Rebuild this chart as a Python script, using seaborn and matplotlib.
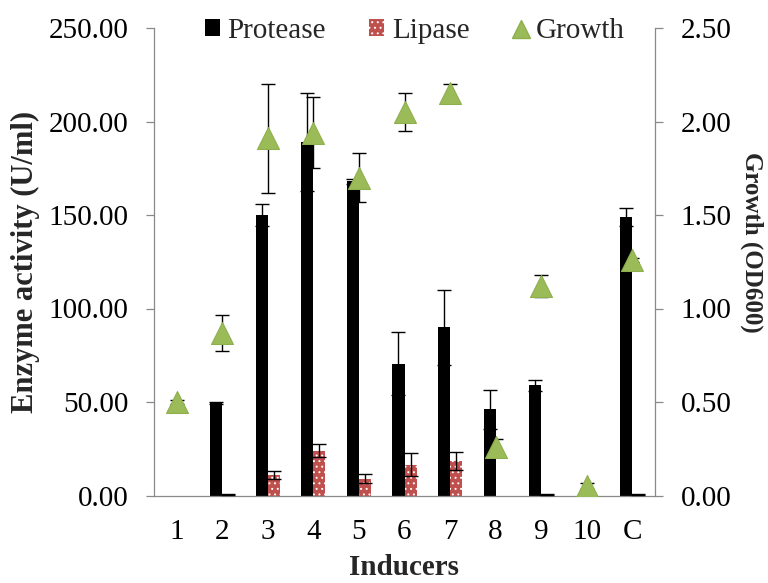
import numpy as np
import pandas as pd
import matplotlib
matplotlib.use("Agg")
import matplotlib.pyplot as plt
import seaborn as sns
from matplotlib.lines import Line2D
from matplotlib.patches import Patch
from matplotlib.ticker import FixedLocator, FormatStrFormatter

# Enzyme activity (U/ml) and growth (OD600) for each inducer
inducers = ["1", "2", "3", "4", "5", "6", "7", "8", "9", "10", "C"]
protease = [0, 49.5, 150, 189, 168, 70.5, 90, 46, 59, 0, 149]
protease_err = [0, 0.5, 6, 26, 1.5, 17, 20, 10.5, 3, 0, 5]
lipase = [0, 0.5, 11, 24, 9, 16.5, 18.5, 0, 0.5, 0, 0.5]
lipase_err = [0, 0.2, 2, 3.6, 2.3, 6, 5, 0, 0.2, 0, 0.2]
growth = [0.50, 0.87, 1.91, 1.94, 1.70, 2.05, 2.15, 0.26, 1.12, 0.05, 1.26]
growth_err = [0.01, 0.095, 0.29, 0.19, 0.13, 0.10, 0.05, 0.04, 0.06, 0.015, 0.01]

PROTEASE_COLOR = "black"
LIPASE_COLOR = "#C0504D"
GROWTH_COLOR = "#9BBB59"
GROWTH_EDGE = "#8DB04C"
AXIS_GRAY = "#898989"

sns.set_style("white")
plt.rcParams["font.family"] = ["Liberation Serif", "DejaVu Serif"]
plt.rcParams["hatch.linewidth"] = 0.7

fig = plt.figure(figsize=(7.68, 5.83), dpi=100)
ax = fig.add_axes([154 / 768, 1 - 495.5 / 583, 501 / 768, 467.5 / 583])

df = pd.DataFrame({
    "Inducer": inducers * 2,
    "Enzyme": ["Protease"] * len(inducers) + ["Lipase"] * len(inducers),
    "Activity": protease + lipase,
})
sns.barplot(data=df, x="Inducer", y="Activity", hue="Enzyme", order=inducers,
            hue_order=["Protease", "Lipase"],
            palette={"Protease": PROTEASE_COLOR, "Lipase": LIPASE_COLOR},
            width=0.53, gap=0, errorbar=None, saturation=1, legend=False, ax=ax)

for bar in ax.containers[0]:
    bar.set_linewidth(0)
for bar in ax.containers[1]:
    bar.set_hatch("...")
    bar.set_edgecolor("white")
    bar.set_linewidth(0)

# error bars on the enzyme bars
for cont, vals, errs in zip(ax.containers, [protease, lipase], [protease_err, lipase_err]):
    xs = [b.get_x() + b.get_width() / 2 for b in cont]
    idx = [i for i, e in enumerate(errs) if e > 0]
    ax.errorbar([xs[i] for i in idx], [vals[i] for i in idx],
                yerr=[errs[i] for i in idx], fmt="none", ecolor="black",
                elinewidth=1.0, capsize=4.7, capthick=1.0, zorder=3)

# growth on the secondary axis
ax2 = ax.twinx()
pos = np.arange(len(inducers))
ax2.errorbar(pos, growth, yerr=growth_err, fmt="none", ecolor="black",
             elinewidth=1.0, capsize=4.7, capthick=1.0, zorder=3)
sns.scatterplot(x=pos, y=growth, marker="^", s=15.8 ** 2, color=GROWTH_COLOR,
                edgecolor=GROWTH_EDGE, linewidth=0.8, legend=False, ax=ax2, zorder=4)

# axes styling
ax.set_xlim(-0.5, len(inducers) - 0.5)
ax.set_ylim(0, 250)
ax.set_yticks(np.arange(0, 251, 50))
ax.yaxis.set_major_formatter(FormatStrFormatter("%.2f"))
ax2.set_ylim(0, 2.5)
ax2.set_yticks(np.arange(0, 2.51, 0.5))
ax2.yaxis.set_major_formatter(FormatStrFormatter("%.2f"))

ax.set_xticks(pos)
ax.set_xticklabels(inducers)
ax.xaxis.set_minor_locator(FixedLocator(np.arange(-0.5, len(inducers), 1.0)))
ax.tick_params(axis="x", which="major", length=0, pad=17, labelsize=21, colors="black")
ax.tick_params(axis="x", which="minor", length=5.8, width=0.9, color=AXIS_GRAY, direction="out")
ax.tick_params(axis="y", length=5.8, width=0.9, color=AXIS_GRAY, pad=12.5,
               labelsize=21, labelcolor="black", direction="out", left=True)
ax2.tick_params(axis="y", length=5.8, width=0.9, color=AXIS_GRAY, pad=12.5,
                labelsize=21, labelcolor="black", direction="out", right=True)

for name in ["top", "right"]:
    ax.spines[name].set_visible(False)
for name in ["left", "bottom"]:
    ax.spines[name].set_color(AXIS_GRAY)
    ax.spines[name].set_linewidth(0.9)
for name in ["top", "left", "bottom"]:
    ax2.spines[name].set_visible(False)
ax2.spines["right"].set_color(AXIS_GRAY)
ax2.spines["right"].set_linewidth(0.9)
ax.grid(False)
ax2.grid(False)

ax.set_xlabel("Inducers", fontsize=21, fontweight="bold", va="center")
ax.xaxis.set_label_coords(0.5, -0.154)
ax.set_ylabel("Enzyme activity (U/ml)", fontsize=22, fontweight="bold", ha="center", va="center")
ax.yaxis.set_label_coords((25.5 - 154) / 501, 0.5)
ax2.set_ylabel("Growth (OD600)", fontsize=18, fontweight="bold", rotation=270,
               ha="center", va="center")
ax2.yaxis.set_label_coords((751.5 - 154) / 501, (495.5 - 242.5) / 467.5)

handles = [
    Patch(facecolor=PROTEASE_COLOR, linewidth=0),
    Patch(facecolor=LIPASE_COLOR, hatch="...", edgecolor="white", linewidth=0),
    Line2D([], [], marker="^", linestyle="none", markersize=13,
           markerfacecolor=GROWTH_COLOR, markeredgecolor=GROWTH_EDGE),
]
fig.legend(handles, ["Protease", "Lipase", "Growth"], loc="center",
           bbox_to_anchor=(414.5 / 768, 1 - 31 / 583), ncol=3, frameon=False,
           fontsize=21, handlelength=0.52, handleheight=0.52, handletextpad=0.25,
           columnspacing=1.5, borderpad=0, borderaxespad=0)

fig.savefig("out.png", dpi=100)
